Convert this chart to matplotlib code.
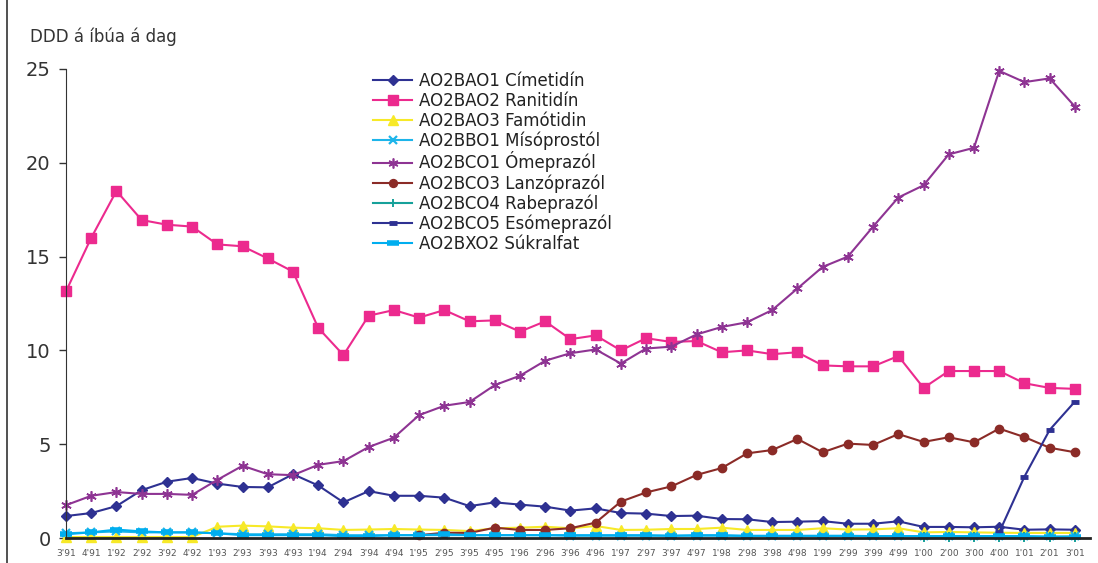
import matplotlib
matplotlib.use("Agg")
import matplotlib.pyplot as plt
from matplotlib.lines import Line2D

plt.rcParams['font.family'] = ['DejaVu Sans']

quarters = ["3'91", "4'91", "1'92", "2'92", "3'92", "4'92", "1'93", "2'93", "3'93", "4'93",
            "1'94", "2'94", "3'94", "4'94", "1'95", "2'95", "3'95", "4'95", "1'96", "2'96",
            "3'96", "4'96", "1'97", "2'97", "3'97", "4'97", "1'98", "2'98", "3'98", "4'98",
            "1'99", "2'99", "3'99", "4'99", "1'00", "2'00", "3'00", "4'00", "1'01", "2'01", "3'01"]

cimetidin = [1.17, 1.33, 1.7, 2.55, 3.0, 3.2, 2.9, 2.72, 2.7, 3.4, 2.8, 1.9, 2.5, 2.25, 2.25,
             2.15, 1.7, 1.9, 1.78, 1.67, 1.46, 1.58, 1.33, 1.3, 1.17, 1.19, 1.01, 1.0, 0.85,
             0.87, 0.9, 0.76, 0.76, 0.89, 0.59, 0.59, 0.57, 0.6, 0.44, 0.46, 0.44]
ranitidin = [13.15, 16.0, 18.5, 16.95, 16.7, 16.6, 15.65, 15.55, 14.9, 14.2, 11.2, 9.75, 11.85,
             12.15, 11.75, 12.15, 11.55, 11.6, 11.0, 11.55, 10.6, 10.8, 10.0, 10.65, 10.45,
             10.5, 9.9, 10.0, 9.8, 9.9, 9.2, 9.15, 9.15, 9.7, 8.0, 8.9, 8.9, 8.9, 8.25, 8.0, 7.95]
famotidin = [0.05, 0.05, 0.05, 0.05, 0.05, 0.05, 0.6, 0.66, 0.62, 0.55, 0.52, 0.43, 0.45, 0.48,
             0.45, 0.43, 0.37, 0.52, 0.55, 0.6, 0.52, 0.64, 0.43, 0.44, 0.48, 0.48, 0.55, 0.43,
             0.43, 0.43, 0.52, 0.45, 0.46, 0.52, 0.3, 0.32, 0.3, 0.28, 0.27, 0.27, 0.27]
misoprostol = [0.25, 0.3, 0.35, 0.3, 0.3, 0.3, 0.25, 0.2, 0.2, 0.2, 0.2, 0.15, 0.15, 0.15, 0.15,
               0.15, 0.15, 0.15, 0.15, 0.15, 0.12, 0.12, 0.12, 0.12, 0.12, 0.12, 0.12, 0.1, 0.1,
               0.1, 0.1, 0.1, 0.1, 0.1, 0.1, 0.1, 0.1, 0.1, 0.08, 0.08, 0.08]
omeprazol = [1.75, 2.25, 2.45, 2.35, 2.35, 2.3, 3.1, 3.85, 3.4, 3.35, 3.9, 4.1, 4.85, 5.35, 6.55,
             7.05, 7.25, 8.15, 8.65, 9.45, 9.85, 10.05, 9.3, 10.1, 10.2, 10.85, 11.25, 11.5,
             12.15, 13.3, 14.45, 15.0, 16.6, 18.15, 18.8, 20.45, 20.8, 24.9, 24.3, 24.5, 23.0]
lanzoprazol = [None] * 14 + [0.15, 0.28, 0.27, 0.55, 0.43, 0.43, 0.52, 0.82, 1.94, 2.43, 2.75,
                             3.36, 3.73, 4.51, 4.69, 5.28, 4.57, 5.03, 4.96, 5.54, 5.12, 5.37,
                             5.1, 5.83, 5.38, 4.81, 4.57]
rabeprazol = [None] * 34 + [0.03, 0.04, 0.05, 0.05, 0.06, 0.06, 0.07]
esomeprazol = [None] * 37 + [0.3, 3.27, 5.76, 7.27]
sukralfat = [0.2, 0.3, 0.45, 0.35, 0.3, 0.3, 0.25, 0.15, 0.15, 0.15, 0.15, 0.1, 0.1, 0.15, 0.15,
             0.2, 0.15, 0.15, 0.15, 0.15, 0.15, 0.15, 0.15, 0.15, 0.12, 0.15, 0.15, 0.12, 0.12,
             0.12, 0.12, 0.12, 0.1, 0.1, 0.1, 0.1, 0.1, 0.1, 0.1, 0.05, 0.05]

series = [
    ("AO2BAO1 Címetidín", cimetidin, "#2E3192", "D", 5.5, {}),
    ("AO2BAO2 Ranitidín", ranitidin, "#EC2A8E", "s", 7.5, {}),
    ("AO2BAO3 Famótidin", famotidin, "#F7E928", "^", 7, {}),
    ("AO2BBO1 Mísóprostól", misoprostol, "#1DB5EA", "x", 5.5, {"markeredgewidth": 1.6}),
    ("AO2BCO1 Ómeprazól", omeprazol, "#8E3493", (6, 2, 0), 7.5, {"markeredgewidth": 1.2}),
    ("AO2BCO3 Lanzóprazól", lanzoprazol, "#8B2B27", "o", 6, {}),
    ("AO2BCO4 Rabeprazól", rabeprazol, "#16A19A", "+", 6.5, {"markeredgewidth": 1.4}),
    ("AO2BCO5 Esómeprazól", esomeprazol, "#2E3192", "_", 5.5, {"markeredgewidth": 3.5}),
    ("AO2BXO2 Súkralfat", sukralfat, "#00AEEF", "_", 9, {"markeredgewidth": 4}),
]

fig = plt.figure(figsize=(10.98, 5.63), dpi=100)
ax = fig.add_axes([66 / 1098, 25 / 563, 1024 / 1098, 469 / 563])

x = list(range(len(quarters)))
handles = []
for name, vals, col, mk, ms, extra in series:
    xs = [i for i, v in zip(x, vals) if v is not None]
    ys = [v for v in vals if v is not None]
    ax.plot(xs, ys, color=col, lw=1.5, marker=mk, markersize=ms, markerfacecolor=col,
            markeredgecolor=col, clip_on=False, **extra)
    handles.append(Line2D([0], [0], color=col, lw=1.5, marker=mk, markersize=ms * 0.95,
                          markerfacecolor=col, markeredgecolor=col, **extra))

ax.set_xlim(0, 40.6)
ax.set_ylim(0, 25)
ax.set_yticks([0, 5, 10, 15, 20, 25])
ax.set_xticks(x)
ax.set_xticklabels(quarters, fontsize=6.5, color="#555555")
ax.tick_params(axis='x', length=0, pad=8)
ax.tick_params(axis='y', length=5, width=1, colors="#333333", labelsize=14, pad=6)
for s in ["top", "right"]:
    ax.spines[s].set_visible(False)
ax.spines["left"].set_color("#333333")
ax.spines["bottom"].set_color("#222222")
ax.spines["bottom"].set_linewidth(2)

fig.text(30 / 1098, 1 - 37 / 563, "DDD á íbúa á dag", fontsize=12, color="#333333", va="center")

leg = fig.legend(handles, [s[0] for s in series], loc="upper left",
                 bbox_to_anchor=(365 / 1098, 1 - 64 / 563), frameon=False, fontsize=12,
                 handlelength=2.3, handletextpad=0.45, labelspacing=0.1, borderpad=0)
for t in leg.get_texts():
    t.set_color("#222222")

fig.add_artist(Line2D([7 / 1098, 7 / 1098], [0, 1], color="#333333", lw=1.2))

fig.savefig("out.png", dpi=100)
